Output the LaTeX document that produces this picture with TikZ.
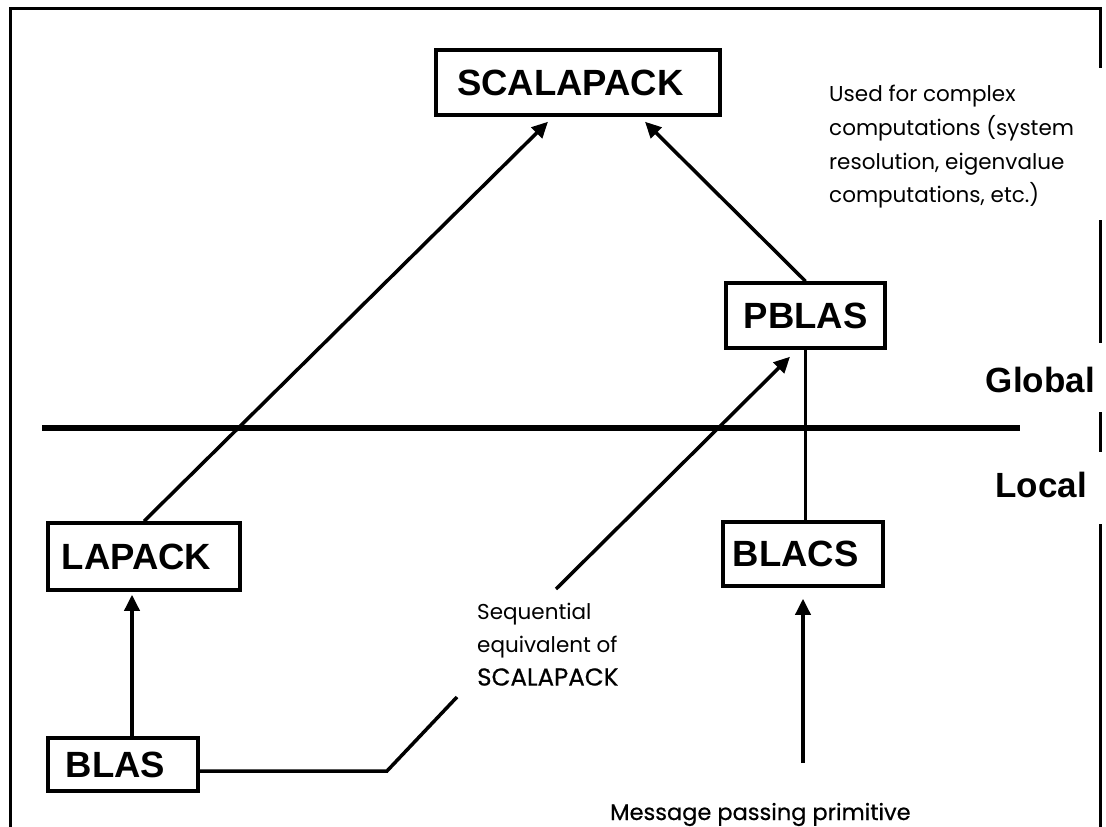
\documentclass[tikz,border=0pt]{standalone}
\usepackage{fontspec}
\usetikzlibrary{arrows.meta}
\newfontfamily\boxfont{Liberation Sans}
\newfontfamily\notefont{Poppins}
\newfontfamily\notefontdark[FakeBold=0.5]{Poppins}
% library names sit a little left of the box centre
\newcommand{\libname}[1]{#1\kern15pt}
\begin{document}
\begin{tikzpicture}[x=1pt,y=-1pt,
  lib/.style={draw,line width=3.5pt,fill=white,inner sep=0pt,
    font=\boxfont\bfseries\fontsize{36.5}{40}\selectfont},
  link/.style={line width=3.5pt},
  arr/.style={line width=3.5pt,-{Triangle[length=16pt,width=15pt]}},
  frameline/.style={line width=3pt},
  divider/.style={line width=6pt},
  note/.style={inner sep=0pt,align=left,
    font=\notefont\fontsize{21.5}{33.7}\selectfont},
  level/.style={inner sep=0pt,font=\boxfont\bfseries\fontsize{35}{40}\selectfont}]
\useasboundingbox[fill=white] (0,0) rectangle (1106,827);

% outer frame, open on the right where the level names sit
\draw[frameline] (10,827) -- (10,8) -- (1100,8) -- (1100,68);
\draw[frameline] (1100,220) -- (1100,343);
\draw[frameline] (1100,412) -- (1100,452);
\draw[frameline] (1100,524) -- (1100,827);

% global / local boundary
\coordinate (divL) at (42,428);
\coordinate (divR) at (1020,428);
\draw[divider] (divL) -- (divR);

% libraries
\node[lib,minimum width=284pt,minimum height=65pt] (scal)  at (578,82.5)  {\libname{SCALAPACK}};
\node[lib,minimum width=159pt,minimum height=65pt] (pblas) at (805.5,315.5) {PBLAS};
\node[lib,minimum width=192pt,minimum height=67pt] (lapack) at (144,556.5) {\libname{LAPACK}};
\node[lib,minimum width=160pt,minimum height=64pt] (blacs) at (803,554)  {\libname{BLACS}};
\node[lib,minimum width=150pt,minimum height=53pt] (blas)  at (123,764.5) {\libname{BLAS}};

% level names
\node[level,anchor=base east] (global) at (1095,392) {Global};
\node[level,anchor=base east] (local)  at (1087,497) {Local};

% annotations
\node[note,anchor=north west] (usage) at (829,85)
  {Used for complex\\computations (system\\resolution, eigenvalue\\computations, etc.)};
\node[note,anchor=north west,font=\notefont\fontsize{21.5}{33}\selectfont] (seq) at (477,603)
  {Sequential\\equivalent of\\{\notefontdark\fontsize{24.5}{33}\selectfont SCALAPACK}};
\node[note,anchor=base west,font=\notefontdark\fontsize{22.5}{30}\selectfont] (msg) at (610,820)
  {Message passing primitive};

% connectors
\draw[arr] (lapack.north) -- ([xshift=-30pt,yshift=-5pt]scal.south);
\draw[arr] (pblas.north) -- ([xshift=67pt,yshift=-5pt]scal.south);
\draw[link] (pblas.south) -- (pblas.south |- blacs.north);
\draw[arr,shorten >=3pt] ([xshift=9pt]blas.north) -- ([xshift=9pt]blas.north |- lapack.south);

\coordinate (blasbend) at (387,771);
\coordinate (blasend) at (457,697);
\draw[link] ([yshift=-6.5pt]blas.east) -- (blasbend) -- (blasend);

\coordinate (seqstart) at (556,589);
\draw[arr] (seqstart) -- ([xshift=-15.5pt,yshift=-7pt]pblas.south);

\coordinate (msgstart) at (803,763);
\draw[arr,shorten >=11pt] (msgstart) -- (msgstart |- blacs.south);
\end{tikzpicture}
\end{document}
